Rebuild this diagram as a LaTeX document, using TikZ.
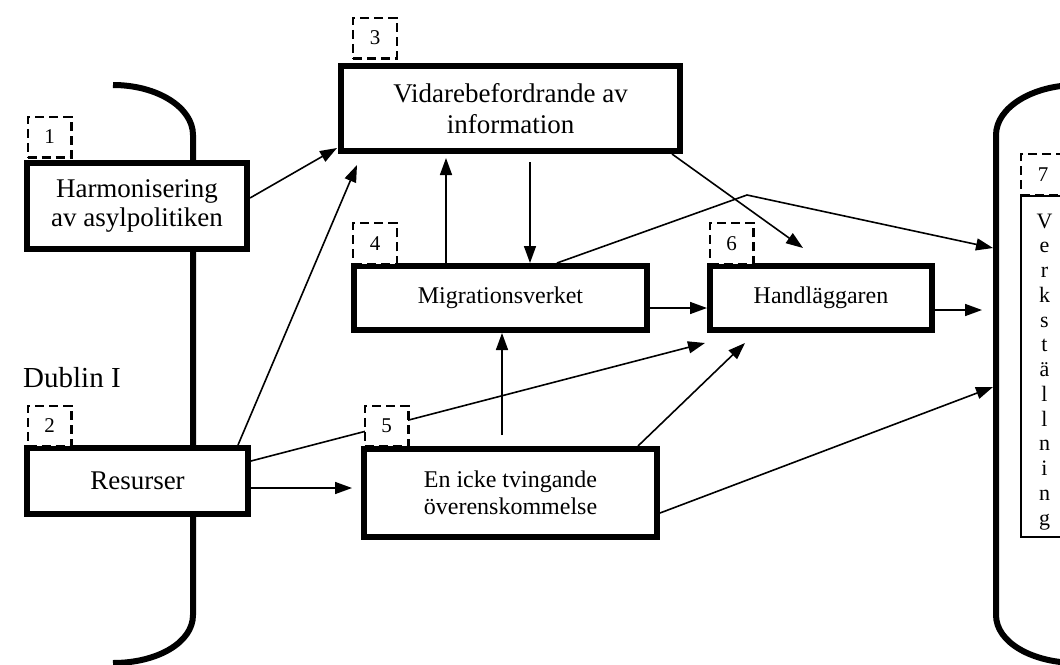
\documentclass[tikz,border=0pt]{standalone}
\usepackage{fontspec}
\setmainfont{Liberation Serif}
\usetikzlibrary{arrows.meta}
\tikzset{
  mainbox/.style={draw, line width=6pt, fill=white, inner sep=0pt, align=center},
  numbox/.style={draw, line width=2.4pt, dash pattern=on 9pt off 5pt, fill=white, inner sep=0pt,
    minimum width=43.6pt, minimum height=40.6pt, font=\fontsize{21}{23}\selectfont},
  conn/.style={line width=1.6pt, -{Triangle[length=17pt,width=12pt]}},
  bracket/.style={line width=6pt},
  bigtext/.style={font=\fontsize{27}{29}\selectfont},
  midtext/.style={font=\fontsize{24}{26.5}\selectfont},
}
\begin{document}
\begin{tikzpicture}[x=1pt,y=-1pt]
\useasboundingbox (0,0) rectangle (1060,664);
\clip (0,0) rectangle (1060,664);
% brackets
\draw[bracket] (113,85) .. controls (157.2,85) and (193,107.4) .. (193,135) -- (193,615) .. controls (193,642.6) and (157.2,663) .. (113,663);
\draw[bracket] (1077,85) .. controls (1032.8,85) and (996,107.4) .. (996,135) -- (996,615) .. controls (996,642.6) and (1032.8,663) .. (1077,663);
% verkstallning box
\node[draw, line width=1.2pt, minimum width=64pt, minimum height=341pt, inner sep=0pt, outer sep=0pt] (verkbox) at (1053,366.5) {};
\foreach \l [count=\i from 0] in {V,e,r,k,s,t,ä,l,l,n,i,n,g}
  \node[anchor=base, inner sep=0pt, font=\fontsize{22}{24}\selectfont] (v\i) at (1044.5,228+24.75*\i) {\l};
% main boxes
\node[mainbox, bigtext, minimum width=220pt, minimum height=86pt] (b1) at (137,206) {Harmonisering\\av asylpolitiken};
\node[mainbox, bigtext, minimum width=221pt, minimum height=66pt] (b2) at (137.5,481) {Resurser};
\node[mainbox, font=\fontsize{27}{31}\selectfont, minimum width=339pt, minimum height=85pt] (b3) at (510.5,108.5) {Vidarebefordrande av\\information};
\node[mainbox, midtext, minimum width=293pt, minimum height=64pt] (b4) at (500.5,298) {Migrationsverket};
\node[mainbox, midtext, minimum width=222pt, minimum height=64pt] (b6) at (821,298) {Handläggaren};
\node[mainbox, midtext, minimum width=293pt, minimum height=88pt] (b5) at (510.5,493) {En icke tvingande\\överenskommelse};
\node[anchor=west, inner sep=0pt, font=\fontsize{29}{31}\selectfont] (dublin) at (23,378) {Dublin I};
% free ends
\coordinate (hend) at (803,248);
\coordinate (bend) at (747,195);
\coordinate (iend) at (993,248);
\coordinate (kend) at (982,310);
\coordinate (mend) at (993,387);
% connectors
\draw[conn] ([yshift=8pt]b1.east) -- ([xshift=-1pt,yshift=6pt]b3.south west);
\draw[conn] ([xshift=100.5pt]b2.north) -- ([xshift=19pt,yshift=-11pt]b3.south west);
\draw[conn] ([yshift=20pt]b2.east) -- ([xshift=-2pt,yshift=-10pt]b6.south west);
\draw[conn] ([yshift=-7pt]b2.east) -- ([xshift=-9pt,yshift=5pt]b5.west);
\draw[conn] ([xshift=-8.5pt,yshift=11pt]b5.north) -- ([xshift=1.5pt]b4.south);
\draw[conn] ([xshift=-54.5pt]b4.north) -- ([xshift=-64.5pt,yshift=-4pt]b3.south);
\draw[conn] ([xshift=19.5pt,yshift=-8pt]b3.south) -- ([xshift=29.5pt]b4.north);
\draw[conn] ([xshift=-11pt]b3.south east) -- (hend);
\draw[conn] ([xshift=56.5pt]b4.north) -- (bend) -- (iend);
\draw[conn] ([yshift=-10pt]b4.east) -- ([yshift=-10pt]b6.west);
\draw[conn] ([yshift=-12pt]b6.east) -- (kend);
\draw[conn] ([xshift=-22pt]b5.north east) -- ([xshift=-76pt,yshift=-10pt]b6.south);
\draw[conn] ([yshift=-20pt]b5.east) -- (mend);
% number labels
\node[numbox] (n1) at (49.5,137) {1};
\node[numbox] (n2) at (49.5,426) {2};
\node[numbox] (n3) at (375,38) {3};
\node[numbox] (n4) at (375,243.5) {4};
\node[numbox] (n5) at (386.5,426) {5};
\node[numbox] (n6) at (731.5,243.5) {6};
\node[numbox] (n7) at (1043,174.5) {7};
\end{tikzpicture}
\end{document}
